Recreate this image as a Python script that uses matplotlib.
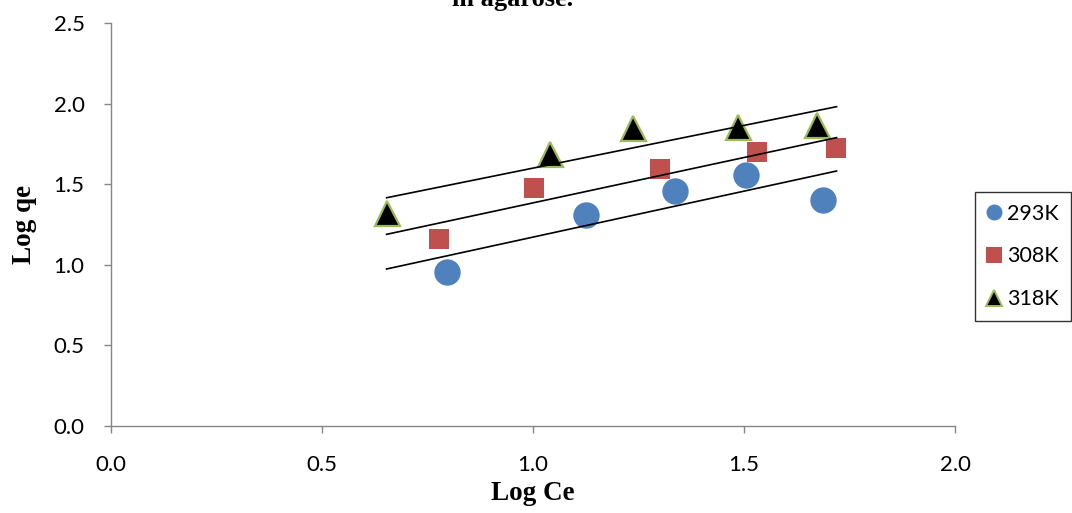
import numpy as np
import matplotlib.pyplot as plt
from matplotlib.lines import Line2D

# data
x_293 = [0.795, 1.125, 1.336, 1.504, 1.686]
y_293 = [0.957, 1.309, 1.458, 1.557, 1.402]

x_308 = [0.777, 1.002, 1.300, 1.531, 1.718]
y_308 = [1.162, 1.479, 1.596, 1.702, 1.725]

x_318 = [0.653, 1.040, 1.236, 1.486, 1.672]
y_318 = [1.320, 1.690, 1.846, 1.852, 1.867]

# trend line end points
trend_x = [0.653, 1.719]
trend_293 = [0.974, 1.582]
trend_308 = [1.189, 1.789]
trend_318 = [1.416, 1.981]

labels = ['293K', '308K', '318K']

tick_font = 'Lato'
label_font = 'Liberation Serif'
grey = '#868686'
blue = '#4F81BD'
red = '#C0504D'
green = '#9BBB59'

fig = plt.figure(figsize=(10.72, 5.13), dpi=100)
ax = fig.add_axes([0.1035, 0.1696, 0.7875, 0.7855])

ax.plot(x_293, y_293, 'o', color=blue, markersize=19, markeredgewidth=0, zorder=3)
ax.plot(x_308, y_308, 's', color=red, markersize=14.5, markeredgewidth=0, zorder=3)
ax.plot(x_318, y_318, '^', color='black', markersize=18, markeredgecolor=green, markeredgewidth=1.6, zorder=3)

for ty in [trend_293, trend_308, trend_318]:
    ax.plot(trend_x, ty, color='black', linewidth=1.2, zorder=4)

ax.set_xlim(0, 2.0)
ax.set_ylim(0, 2.5)
ax.set_xticks(np.arange(0, 2.01, 0.5))
ax.set_yticks(np.arange(0, 2.51, 0.5))
ax.xaxis.set_major_formatter(plt.FormatStrFormatter('%.1f'))
ax.yaxis.set_major_formatter(plt.FormatStrFormatter('%.1f'))

for side in ['top', 'right']:
    ax.spines[side].set_visible(False)
for side in ['left', 'bottom']:
    ax.spines[side].set_color(grey)
    ax.spines[side].set_linewidth(1.0)

ax.tick_params(axis='both', direction='out', length=5, width=1, color=grey, labelsize=16)
ax.tick_params(axis='x', pad=16)
ax.tick_params(axis='y', pad=14)
for lab in ax.get_xticklabels() + ax.get_yticklabels():
    lab.set_family(tick_font)

ax.set_xlabel('Log Ce', family=label_font, fontweight='bold', fontsize=19.5, labelpad=4)
ax.set_ylabel('Log qe', family=label_font, fontweight='bold', fontsize=19.5, labelpad=12)

# title, second line only partly visible at the top edge
fig.text(0.478, 1 - 6 / 513, 'in agarose.', family=label_font, fontweight='bold',
         fontsize=19, ha='center', va='baseline')

handles = [
    Line2D([], [], linestyle='none', marker='o', color=blue, markersize=11.5, markeredgewidth=0),
    Line2D([], [], linestyle='none', marker='s', color=red, markersize=11, markeredgewidth=0),
    Line2D([], [], linestyle='none', marker='^', color='black', markersize=11,
           markeredgecolor=green, markeredgewidth=1.4),
]
leg = fig.legend(handles, labels, loc='upper left', bbox_to_anchor=(975 / 1072, 1 - 192 / 513),
                 frameon=True, fancybox=False, edgecolor='black',
                 labelspacing=1.05, handletextpad=0.25, handlelength=0.7, borderpad=0.55,
                 borderaxespad=0, prop={'family': tick_font, 'size': 15.5})
leg.get_frame().set_linewidth(1.0)

fig.savefig('out.png', dpi=100)
